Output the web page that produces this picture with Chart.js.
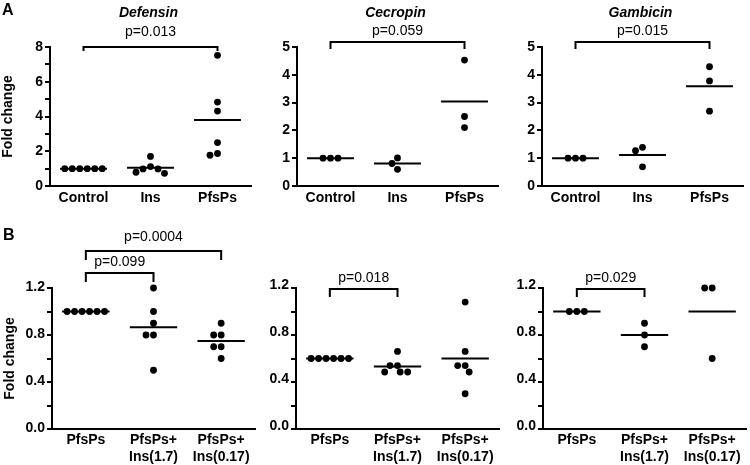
<!DOCTYPE html>
<html>
<head>
<meta charset="utf-8">
<script src="https://cdn.jsdelivr.net/npm/chart.js@4"></script>
<style>
  body { margin: 0; background: #fff; }
  #wrap { position: relative; width: 750px; height: 465px; overflow: hidden; }
  .panel { position: absolute; }
</style>
</head>
<body>
<div id="wrap"></div>
<script>
// Categories
const groupsA = ['Control', 'Ins', 'PfsPs'];
const groupsB = ['PfsPs', ['PfsPs+', 'Ins(1.7)'], ['PfsPs+', 'Ins(0.17)']];
const titlesA = ['Defensin', 'Cecropin', 'Gambicin'];

// Row A values (fold change)
const defensinControl = [1, 1, 1, 1, 1, 1];
const defensinIns = [1.7, 1.12, 0.98, 0.98, 0.79, 0.73];
const defensinPfsPs = [7.52, 4.83, 4.31, 2.5, 1.87, 1.77];
const cecropinControl = [1, 1, 1];
const cecropinIns = [1.01, 0.81, 0.6];
const cecropinPfsPs = [4.53, 2.5, 2.1];
const gambicinControl = [1, 1, 1];
const gambicinIns = [1.39, 1.27, 0.69];
const gambicinPfsPs = [4.29, 3.78, 2.69];

// Row B values (fold change)
const defensinBPfsPs = [1, 1, 1, 1, 1, 1];
const defensinBIns17 = [1.2, 1.0, 0.9, 0.8, 0.8, 0.5];
const defensinBIns017 = [0.9, 0.8, 0.8, 0.7, 0.7, 0.6];
const cecropinBPfsPs = [0.6, 0.6, 0.6, 0.6, 0.6, 0.6];
const cecropinBIns17 = [0.66, 0.54, 0.54, 0.485, 0.485, 0.485];
const cecropinBIns017 = [1.08, 0.66, 0.54, 0.54, 0.485, 0.3];
const gambicinBPfsPs = [1, 1, 1];
const gambicinBIns17 = [0.9, 0.8, 0.7];
const gambicinBIns017 = [1.2, 1.2, 0.6];

// p values
const pRowA = ['p=0.013', 'p=0.059', 'p=0.015'];
const pRowB = ['p=0.099', 'p=0.0004', 'p=0.018', 'p=0.029'];

const FONT = '"Liberation Sans", Arial, Helvetica, sans-serif';
Chart.defaults.font.family = FONT;
Chart.defaults.color = '#000';

const fmtA8 = v => (v % 2 === 0 ? String(v) : '');
const fmtA5 = v => String(v);
const fmtB = v => (Math.round(v * 10) % 4 === 0 ? v.toFixed(1) : '');

const rowA = { top: 0, h: 215, padTop: 47, xH: 29, xPad: 3, cats: groupsA, max: 5, step: 1, fmt: fmtA5, labelOffset: 0, plotW: 203 };
const rowB = { top: 220, h: 245, padTop: 68, xH: 36, xPad: 2, cats: groupsB, max: 1.2, step: 0.2, fmt: fmtB, labelOffset: -3, plotW: 205 };

const panels = [
  Object.assign({}, rowA, { left: 0, series: [defensinControl, defensinIns, defensinPfsPs], title: titlesA[0], letter: 'A', letterX: 2, letterY: 15, yTitle: true, max: 8, fmt: fmtA8,
    brackets: [{ a: 0, b: 2, p: pRowA[0], rise: 0, leg: 4, gap: 15 }] }),
  Object.assign({}, rowA, { left: 247, series: [cecropinControl, cecropinIns, cecropinPfsPs], title: titlesA[1],
    brackets: [{ a: 0, b: 2, p: pRowA[1], rise: 5, leg: 7, gap: 11 }] }),
  Object.assign({}, rowA, { left: 492, series: [gambicinControl, gambicinIns, gambicinPfsPs], title: titlesA[2],
    brackets: [{ a: 0, b: 2, p: pRowA[2], rise: 5, leg: 7, gap: 11 }] }),
  Object.assign({}, rowB, { left: 2, series: [defensinBPfsPs, defensinBIns17, defensinBIns017], letter: 'B', letterX: 1, letterY: 20, yTitle: true, labelOffset: -1,
    brackets: [{ a: 0, b: 1, p: pRowB[0], rise: 15, leg: 9, gap: 11 }, { a: 0, b: 2, p: pRowB[1], rise: 37, leg: 9, gap: 14 }] }),
  Object.assign({}, rowB, { left: 246, series: [cecropinBPfsPs, cecropinBIns17, cecropinBIns017],
    brackets: [{ a: 0, b: 1, p: pRowB[2], rise: -1, leg: 8, gap: 11 }] }),
  Object.assign({}, rowB, { left: 493, series: [gambicinBPfsPs, gambicinBIns17, gambicinBIns017],
    brackets: [{ a: 0, b: 1, p: pRowB[3], rise: -1, leg: 8, gap: 11 }] })
];

// spread overlapping dots sideways (simple beeswarm in pixel space)
const GAP = 7.5;
const swarm = {
  id: 'swarm',
  afterDatasetsUpdate(chart) {
    const ds = chart.data.datasets[0];
    const meta = chart.getDatasetMeta(0);
    const groups = {};
    meta.data.forEach((el, i) => {
      const g = ds.data[i].x;
      (groups[g] = groups[g] || []).push(el);
    });
    Object.values(groups).forEach(els => {
      const placed = [];
      els.forEach(el => {
        let dx = 0;
        for (let k = 0; k < 300; k++) {
          const cand = k === 0 ? 0 : (k % 2 ? -1 : 1) * Math.ceil(k / 2) * 0.5;
          if (placed.every(p => Math.hypot(p.dx - cand, p.y - el.y) >= GAP)) { dx = cand; break; }
        }
        placed.push({ el, dx, y: el.y });
      });
      // centre rows of 3+ equal values
      const done = new Set();
      placed.forEach(p => {
        if (done.has(p)) return;
        const row = placed.filter(q => Math.abs(q.y - p.y) < 0.5);
        row.forEach(q => done.add(q));
        if (row.length >= 3) {
          const m = row.reduce((s, q) => s + q.dx, 0) / row.length;
          row.forEach(q => { q.dx -= m; });
        }
      });
      placed.forEach(p => { p.el.x += p.dx; });
    });
  }
};

function makeDecor(p) {
  return {
    id: 'decor',
    afterDraw(chart) {
      const { ctx, chartArea } = chart;
      const x = chart.scales.x;
      ctx.save();
      ctx.fillStyle = '#000';
      ctx.strokeStyle = '#000';
      ctx.lineWidth = 2;
      ctx.lineJoin = 'miter';
      if (p.letter) {
        ctx.font = 'bold 16px ' + FONT;
        ctx.textAlign = 'left';
        ctx.textBaseline = 'alphabetic';
        ctx.fillText(p.letter, p.letterX, p.letterY);
      }
      if (p.title) {
        ctx.font = 'italic bold 14px ' + FONT;
        ctx.textAlign = 'center';
        ctx.textBaseline = 'middle';
        ctx.fillText(p.title, (chartArea.left + chartArea.right) / 2 - 2, 13);
      }
      p.brackets.forEach(b => {
        const x1 = x.getPixelForValue(b.a);
        const x2 = x.getPixelForValue(b.b);
        const y = chartArea.top - b.rise;
        ctx.beginPath();
        ctx.moveTo(x1, y + b.leg);
        ctx.lineTo(x1, y);
        ctx.lineTo(x2, y);
        ctx.lineTo(x2, y + b.leg);
        ctx.stroke();
        ctx.font = '14px ' + FONT;
        ctx.textAlign = 'center';
        ctx.textBaseline = 'middle';
        ctx.fillText(b.p, (x1 + x2) / 2, y - b.gap);
      });
      ctx.restore();
    }
  };
}

const wrap = document.getElementById('wrap');

panels.forEach(p => {
  const w = 50 + p.plotW + 2;
  const div = document.createElement('div');
  div.className = 'panel';
  div.style.left = p.left + 'px';
  div.style.top = p.top + 'px';
  const canvas = document.createElement('canvas');
  canvas.width = w;
  canvas.height = p.h;
  canvas.style.width = w + 'px';
  canvas.style.height = p.h + 'px';
  div.appendChild(canvas);
  wrap.appendChild(div);

  const dots = p.series.flatMap((vals, i) => vals.map(v => ({ x: i, y: v })));
  const means = p.series.map((vals, i) => {
    const m = vals.reduce((s, v) => s + v, 0) / vals.length;
    return {
      data: [{ x: i - 0.35, y: m }, { x: i + 0.35, y: m }],
      showLine: true,
      borderColor: '#000',
      borderWidth: 2,
      pointRadius: 0,
      clip: false
    };
  });

  new Chart(canvas, {
    type: 'scatter',
    data: {
      datasets: [{
        data: dots,
        pointRadius: 3.4,
        pointBackgroundColor: '#000',
        pointBorderWidth: 0,
        showLine: false,
        clip: false
      }].concat(means)
    },
    options: {
      responsive: false,
      animation: false,
      events: [],
      layout: { padding: { top: p.padTop, right: 2, left: 0, bottom: 0 } },
      plugins: { legend: { display: false }, tooltip: { enabled: false } },
      scales: {
        x: {
          type: 'linear',
          min: -0.5,
          max: 2.5,
          afterBuildTicks: s => { s.ticks = p.cats.map((c, i) => ({ value: i })); },
          afterFit: s => { s.height = p.xH; },
          grid: { display: false, drawTicks: false },
          border: { display: true, color: '#000', width: 2 },
          ticks: {
            color: '#000',
            font: { size: 14, weight: 'bold', lineHeight: 1.25 },
            padding: p.xPad,
            maxRotation: 0,
            autoSkip: false,
            callback: v => p.cats[v]
          }
        },
        y: {
          min: 0,
          max: p.max,
          afterFit: s => { s.width = 50; },
          grid: { drawOnChartArea: false, tickLength: 5, color: '#000', lineWidth: 2 },
          border: { display: true, color: '#000', width: 2 },
          ticks: {
            stepSize: p.step,
            autoSkip: false,
            color: '#000',
            padding: 2,
            labelOffset: p.labelOffset,
            font: { size: 14, weight: 'bold' },
            callback: p.fmt
          },
          title: {
            display: !!p.yTitle,
            text: 'Fold change',
            color: '#000',
            font: { size: 14, weight: 'bold' },
            padding: 0
          }
        }
      }
    },
    plugins: [swarm, makeDecor(p)]
  });
});
</script>
</body>
</html>
